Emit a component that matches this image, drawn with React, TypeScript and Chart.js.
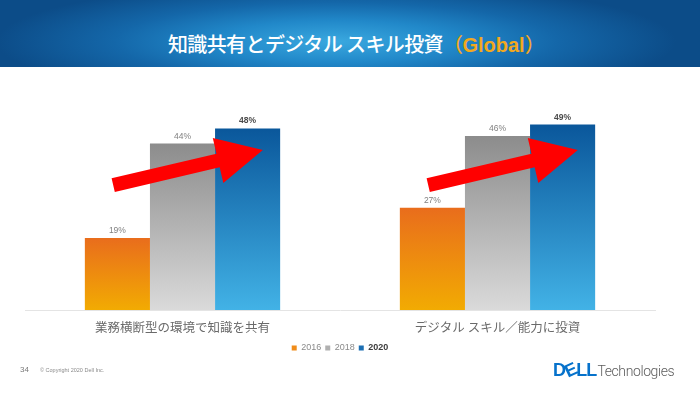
import React, { useEffect, useRef } from "react";
import { Chart, registerables } from "chart.js";

Chart.register(...registerables);

const categories = ["業務横断型の環境で知識を共有", "デジタル スキル／能力に投資"];
const seriesNames = ["2016", "2018", "2020"];
const values2016 = [19, 27];
const values2018 = [44, 46];
const values2020 = [48, 49];
const yMax = 60;

const gradients: [string, string][] = [
  ["#e96d1c", "#f2ab02"],
  ["#8c8c8c", "#dadada"],
  ["#0a579b", "#42b2e6"],
];
const legendColors = ["#f08c1a", "#b0b0b0", "#1c6fb3"];
const LEGEND_FONT = 9;
const LEGEND_BOX = 5;

const grad = (top: string, bottom: string) => (ctx: any) => {
  const chart = ctx.chart;
  if (!chart.chartArea || ctx.type !== "data") return top;
  const y = chart.scales.y;
  const v = ctx.raw as number;
  const y0 = y.getPixelForValue(v);
  const y1 = y.getPixelForValue(0);
  const g = chart.ctx.createLinearGradient(0, y0, 0, y1);
  g.addColorStop(0, top);
  g.addColorStop(1, bottom);
  return g;
};

const labelPlugin = {
  id: "barLabels",
  afterDatasetsDraw(chart: any) {
    const ctx = chart.ctx;
    ctx.save();
    ctx.textAlign = "center";
    ctx.textBaseline = "bottom";
    chart.data.datasets.forEach((ds: any, di: number) => {
      const meta = chart.getDatasetMeta(di);
      meta.data.forEach((el: any, i: number) => {
        const bold = di === 2;
        ctx.font = `${bold ? "bold " : ""}8.5px "Liberation Sans", Arial, sans-serif`;
        ctx.fillStyle = bold ? "#4a4a4a" : "#808080";
        ctx.fillText(`${ds.data[i]}%`, el.x, el.y - 3);
      });
    });
    ctx.restore();
  },
};

const arrowPlugin = {
  id: "arrows",
  afterDatasetsDraw(chart: any) {
    const ctx = chart.ctx;
    const xs = chart.scales.x;
    const ys = chart.scales.y;
    const unit = xs.getPixelForValue(1) - xs.getPixelForValue(0);
    ctx.save();
    ctx.fillStyle = "#ff0000";
    categories.forEach((_, i) => {
      const cx = xs.getPixelForValue(i);
      const tx = cx - 0.22 * unit;
      const ty = ys.getPixelForValue(33);
      const hx = cx + 0.255 * unit;
      const hy = ys.getPixelForValue(42.3);
      const dx = hx - tx;
      const dy = hy - ty;
      const len = Math.hypot(dx, dy);
      const ux = dx / len;
      const uy = dy / len;
      const nx = -uy;
      const ny = ux;
      const sw = 7;
      const hw = 23;
      const hl = 46;
      const bx = hx - ux * hl;
      const by = hy - uy * hl;
      ctx.beginPath();
      ctx.moveTo(tx + nx * sw, ty + ny * sw);
      ctx.lineTo(bx + nx * sw, by + ny * sw);
      ctx.lineTo(bx + nx * hw, by + ny * hw);
      ctx.lineTo(hx, hy);
      ctx.lineTo(bx - nx * hw, by - ny * hw);
      ctx.lineTo(bx - nx * sw, by - ny * sw);
      ctx.lineTo(tx - nx * sw, ty - ny * sw);
      ctx.closePath();
      ctx.fill();
    });
    ctx.restore();
  },
};

// re-draw the last legend entry ("2020") in bold, as in the original slide
const boldLegendPlugin = {
  id: "boldLegend",
  afterDraw(chart: any) {
    const legend = chart.legend;
    if (!legend || !legend.legendHitBoxes || !legend.legendItems) return;
    const idx = legend.legendItems.length - 1;
    const hb = legend.legendHitBoxes[idx];
    if (!hb) return;
    const ctx = chart.ctx;
    const tx = hb.left + LEGEND_BOX + LEGEND_FONT / 2;
    ctx.save();
    ctx.fillStyle = "#ffffff";
    ctx.fillRect(tx - 0.5, hb.top - 1, hb.width - LEGEND_BOX - LEGEND_FONT / 2 + 6, hb.height + 2);
    ctx.font = `bold ${LEGEND_FONT}px "Liberation Sans", Arial, sans-serif`;
    ctx.fillStyle = "#3c3c3c";
    ctx.textAlign = "left";
    ctx.textBaseline = "middle";
    ctx.fillText(legend.legendItems[idx].text, tx, hb.top + hb.height / 2);
    ctx.restore();
  },
};

function BarChart() {
  const ref = useRef<HTMLCanvasElement | null>(null);
  useEffect(() => {
    if (!ref.current) return;
    const series = [values2016, values2018, values2020];
    const chart = new Chart(ref.current, {
      type: "bar",
      data: {
        labels: categories,
        datasets: series.map((d, i) => ({
          label: seriesNames[i],
          data: d,
          backgroundColor: grad(gradients[i][0], gradients[i][1]),
          borderWidth: 0,
          barPercentage: 1,
          categoryPercentage: 0.62,
        })),
      },
      options: {
        responsive: false,
        animation: false,
        layout: { padding: { left: 25, right: 45, top: 83, bottom: 30.5 } },
        scales: {
          x: {
            grid: { display: false, drawTicks: false },
            border: { display: true, color: "#e4e4e4", width: 1 },
            ticks: {
              padding: 9.5,
              color: "#6a6a6a",
              font: { size: 12.5, family: '"Noto Sans CJK JP", sans-serif' },
            },
            afterFit: (scale: any) => {
              scale.height = 29.5;
            },
          },
          y: { display: false, min: 0, max: yMax },
        },
        plugins: {
          tooltip: { enabled: false },
          legend: {
            position: "bottom",
            labels: {
              boxWidth: LEGEND_BOX,
              boxHeight: LEGEND_BOX,
              padding: 4,
              font: { size: LEGEND_FONT, family: '"Liberation Sans", Arial, sans-serif' },
              color: "#8a8a8a",
              generateLabels: () =>
                seriesNames.map((n, i) => ({
                  text: n,
                  fillStyle: legendColors[i],
                  strokeStyle: legendColors[i],
                  lineWidth: 0,
                  hidden: false,
                  datasetIndex: i,
                  fontColor: i === 2 ? "#3c3c3c" : "#8a8a8a",
                })),
            },
          },
        },
      },
      plugins: [labelPlugin, arrowPlugin, boldLegendPlugin],
    });
    return () => chart.destroy();
  }, []);
  return (
    <canvas
      ref={ref}
      width={700}
      height={393}
      style={{ position: "absolute", left: 0, top: 0, width: 700, height: 393 }}
    />
  );
}

export default function App() {
  return (
    <div
      style={{
        position: "fixed",
        left: 0,
        top: 0,
        width: 700,
        height: 393,
        background: "#ffffff",
        overflow: "hidden",
        fontFamily: '"Noto Sans CJK JP", sans-serif',
      }}
    >
      <div
        style={{
          position: "absolute",
          left: 0,
          top: 0,
          width: 700,
          height: 67,
          background:
            "radial-gradient(ellipse 340px 60px at 48% 62%, #3aa8df 0%, #2188c9 35%, #1467a9 65%, #0c4c88 100%)",
        }}
      />
      <div
        style={{
          position: "absolute",
          left: 6,
          top: 31,
          width: 700,
          textAlign: "center",
          color: "#ffffff",
          fontSize: 20,
          fontWeight: 500,
          lineHeight: "26px",
          letterSpacing: -0.6,
        }}
      >
        知識共有とデジタル スキル投資
        <span style={{ color: "#f2a81d" }}>
          （<span style={{ fontFamily: '"Liberation Sans", Arial, sans-serif', fontWeight: 700, letterSpacing: 0 }}>Global</span>）
        </span>
      </div>
      <BarChart />
      <div
        style={{
          position: "absolute",
          left: 20,
          top: 365,
          fontSize: 8,
          color: "#7a7a7a",
          fontFamily: '"Liberation Sans", Arial, sans-serif',
        }}
      >
        34
      </div>
      <div
        style={{
          position: "absolute",
          left: 40,
          top: 367,
          fontSize: 5.5,
          color: "#8a8a8a",
          fontFamily: '"Liberation Sans", Arial, sans-serif',
        }}
      >
        © Copyright 2020 Dell Inc.
      </div>
      <div
        style={{
          position: "absolute",
          left: 553,
          top: 359,
          whiteSpace: "nowrap",
          lineHeight: "20px",
        }}
      >
        <span
          style={{
            color: "#0672cb",
            fontWeight: 700,
            fontSize: 18,
            fontFamily: '"Liberation Sans", Arial, sans-serif',
            letterSpacing: -0.9,
          }}
        >
          D
          <span style={{ display: "inline-block", transform: "rotate(-25deg)" }}>E</span>
          LL
        </span>
        <span
          style={{
            color: "#5c5c5c",
            fontWeight: 300,
            fontSize: 14,
            fontFamily: "Roboto, sans-serif",
            letterSpacing: -0.4,
            marginLeft: 1,
          }}
        >
          Technologies
        </span>
      </div>
    </div>
  );
}
